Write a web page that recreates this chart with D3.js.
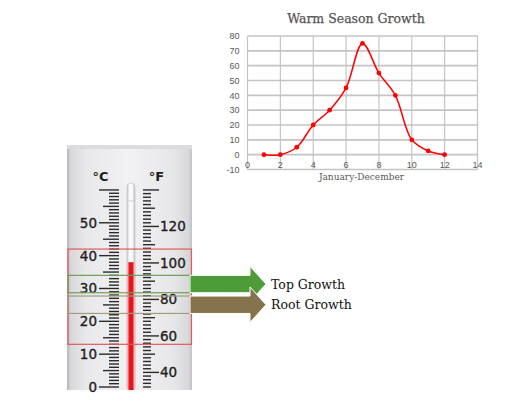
<!DOCTYPE html>
<html><head><meta charset="utf-8">
<script src="https://cdn.jsdelivr.net/npm/d3@7"></script>
<style>body{margin:0;background:#fff}svg{display:block}</style>
</head><body>
<svg id="c" width="520" height="416"></svg>
<script>
// ---- data ----
const months = [1,2,3,4,5,6,7,8,9,10,11,12];
const growth = [0,0,5,20,30,45,75,55,40,10,2.5,0];
const xTicks = [0,2,4,6,8,10,12,14];
const yTicks = [-10,0,10,20,30,40,50,60,70,80];
const chartTitle = "Warm Season Growth";
const xTitle = "January-December";
const celsiusLabels = [0,10,20,30,40,50];
const fahrenheitLabels = [40,60,80,100,120];
const liquidC = 38;
const bandOptimal = [13, 42];      // °C
const bandTop = [28.7, 34];        // °C
const bandRoot = [22.4, 27.7];     // °C
const arrowLabels = ["Top Growth","Root Growth"];

const svg = d3.select("#c");

// ---- line chart ----
const x = d3.scaleLinear().domain([0,14]).range([247.5,477.5]);
const y = d3.scaleLinear().domain([-10,80]).range([169.5,36]);
const g = svg.append("g");
g.selectAll("line.v").data(xTicks).join("line")
  .attr("x1",d=>x(d)).attr("x2",d=>x(d)).attr("y1",y(80)).attr("y2",y(-10))
  .attr("stroke","#c4c4c4").attr("stroke-width",1.2);
g.selectAll("line.h").data(yTicks).join("line")
  .attr("x1",x(0)).attr("x2",x(14)).attr("y1",d=>y(d)).attr("y2",d=>y(d))
  .attr("stroke","#c4c4c4").attr("stroke-width",1.6);
g.selectAll("text.yl").data(yTicks).join("text")
  .attr("x",x(0)-8).attr("y",d=>y(d)+3.2).attr("text-anchor","end")
  .attr("font-family","Liberation Sans, Arial, sans-serif").attr("font-size",9)
  .attr("fill","#595959").text(d=>d);
g.selectAll("text.xl").data(xTicks).join("text")
  .attr("x",d=>x(d)).attr("y",y(0)+13.5).attr("text-anchor","middle")
  .attr("font-family","Liberation Sans, Arial, sans-serif").attr("font-size",9)
  .attr("fill","#595959").text(d=>d);
g.append("text").attr("x",356).attr("y",23).attr("text-anchor","middle")
  .attr("font-family","DejaVu Serif, serif").attr("font-size",12.5).attr("fill","#555")
  .attr("stroke","#555").attr("stroke-width",0.25)
  .text(chartTitle);
g.append("text").attr("x",361.5).attr("y",180).attr("text-anchor","middle")
  .attr("font-family","DejaVu Serif, serif").attr("font-size",9).attr("fill","#595959")
  .text(xTitle);
const pts = months.map((m,i)=>[m,growth[i]]);
g.append("path").datum(pts)
  .attr("d",d3.line().x(d=>x(d[0])).y(d=>y(d[1])).curve(d3.curveCatmullRom.alpha(0.5)))
  .attr("fill","none").attr("stroke","#ff0000").attr("stroke-width",1.5);
g.selectAll("circle.m").data(pts).join("circle")
  .attr("cx",d=>x(d[0])).attr("cy",d=>y(d[1])).attr("r",2.4).attr("fill","#ff0000");

// ---- thermometer ----
const cY = d3.scaleLinear().domain([0,50]).range([387,222.8]);
const fY = f => cY((f-32)/1.8);
const defs = svg.append("defs");
const bg = defs.append("linearGradient").attr("id","body");
[["0%","#b4b4b8"],["3%","#d8d8dc"],["15%","#e9e9eb"],["50%","#f1f1f3"],["85%","#e7e7e9"],["97%","#d8d8da"],["100%","#c2c2c4"]]
  .forEach(s=>bg.append("stop").attr("offset",s[0]).attr("stop-color",s[1]));
const tg = defs.append("linearGradient").attr("id","tube");
[["0%","#c8c8cc"],["35%","#ffffff"],["70%","#f4f4f6"],["100%","#bdbdc2"]]
  .forEach(s=>tg.append("stop").attr("offset",s[0]).attr("stop-color",s[1]));
const th = svg.append("g");
th.append("rect").attr("x",67).attr("y",145).attr("width",125).attr("height",245).attr("fill","url(#body)");
th.append("rect").attr("x",67).attr("y",145).attr("width",125).attr("height",4).attr("fill","#dcdcde");
// tube
th.append("rect").attr("x",127).attr("y",183).attr("width",8).attr("height",207).attr("rx",4)
  .attr("fill","url(#tube)").attr("stroke","#c0c0c4").attr("stroke-width",0.6);
th.append("path").attr("d","M128.5,200 Q131,203 133.5,200").attr("fill","none").attr("stroke","#bbb").attr("stroke-width",0.7);
th.append("rect").attr("x",126.5).attr("y",cY(liquidC)).attr("width",9).attr("height",390-cY(liquidC))
  .attr("fill","#f4b0b0").attr("opacity",0.6);
th.append("rect").attr("x",128.5).attr("y",cY(liquidC)).attr("width",5).attr("height",390-cY(liquidC))
  .attr("fill","#e8141c");
// celsius ticks
const cT = d3.range(0,61,1);
th.selectAll("line.ct").data(cT).join("line")
  .attr("x1",d=>d%10===0?99:(d%5===0?103:109)).attr("x2",119)
  .attr("y1",d=>cY(d)).attr("y2",d=>cY(d)).attr("stroke","#2a2a2a").attr("stroke-width",1.4);
th.selectAll("text.cl").data(celsiusLabels).join("text")
  .attr("x",97).attr("y",d=>cY(d)+5).attr("text-anchor","end")
  .attr("font-family","DejaVu Sans, sans-serif").attr("font-size",13.5).attr("fill","#1e1e1e")
  .attr("stroke","#1e1e1e").attr("stroke-width",0.35).text(d=>d);
// fahrenheit ticks
const fT = d3.range(32,141,2);
th.selectAll("line.ft").data(fT).join("line")
  .attr("x1",143).attr("x2",d=>d%20===0?159:(d%10===0?155:151))
  .attr("y1",d=>fY(d)).attr("y2",d=>fY(d)).attr("stroke","#2a2a2a").attr("stroke-width",1.4);
th.selectAll("text.fl").data(fahrenheitLabels).join("text")
  .attr("x",160).attr("y",d=>fY(d)+5).attr("text-anchor","start")
  .attr("font-family","DejaVu Sans, sans-serif").attr("font-size",13.5).attr("fill","#1e1e1e")
  .attr("stroke","#1e1e1e").attr("stroke-width",0.35).text(d=>d);
th.append("text").attr("x",100.5).attr("y",181).attr("text-anchor","middle")
  .attr("font-family","DejaVu Sans, sans-serif").attr("font-weight","bold").attr("font-size",13).attr("fill","#1e1e1e").text("°C");
th.append("text").attr("x",156.5).attr("y",181).attr("text-anchor","middle")
  .attr("font-family","DejaVu Sans, sans-serif").attr("font-weight","bold").attr("font-size",13).attr("fill","#1e1e1e").text("°F");
// bands
th.append("rect").attr("x",68).attr("width",123.5).attr("y",cY(bandOptimal[1])).attr("height",cY(bandOptimal[0])-cY(bandOptimal[1]))
  .attr("fill","none").attr("stroke","#e05a5a").attr("stroke-width",1.2);
th.append("rect").attr("x",68).attr("width",122).attr("y",cY(bandTop[1])).attr("height",cY(bandTop[0])-cY(bandTop[1]))
  .attr("fill","none").attr("stroke","#6f9d5a").attr("stroke-width",1.2);
th.append("rect").attr("x",68).attr("width",122).attr("y",cY(bandRoot[1])).attr("height",cY(bandRoot[0])-cY(bandRoot[1]))
  .attr("fill","none").attr("stroke","#a59a7e").attr("stroke-width",1.2);
// arrows
function arrow(band){
  const t = cY(band[1]), b = cY(band[0]), m = (t+b)/2;
  return `M190,${t} L250,${t} L250,${t-9} L266,${m} L250,${b+9} L250,${b} L190,${b} Z`;
}
svg.append("path").attr("d",arrow(bandTop)).attr("fill","#4e9b3a").attr("stroke","#fff").attr("stroke-width",1);
svg.append("path").attr("d",arrow(bandRoot)).attr("fill","#86724c").attr("stroke","#fff").attr("stroke-width",1);
svg.append("text").attr("x",271).attr("y",(cY(bandTop[0])+cY(bandTop[1]))/2+4.5)
  .attr("font-family","DejaVu Serif, serif").attr("font-size",12.5).attr("fill","#111").text(arrowLabels[0]);
svg.append("text").attr("x",271).attr("y",(cY(bandRoot[0])+cY(bandRoot[1]))/2+4.5)
  .attr("font-family","DejaVu Serif, serif").attr("font-size",12.5).attr("fill","#111").text(arrowLabels[1]);
</script>
</body></html>
